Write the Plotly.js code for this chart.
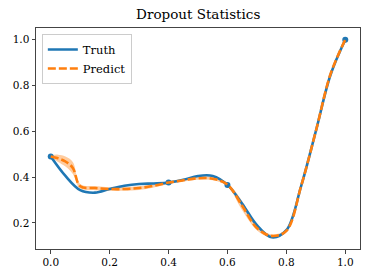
<!DOCTYPE html>
<html>
<head>
<meta charset="utf-8">
<script src="https://cdn.plot.ly/plotly-3.0.1.min.js"></script>
<style>html,body{margin:0;padding:0;background:#fff;}#chart{width:374px;height:280px;}</style>
</head>
<body>
<div id="chart"></div>
<script>
// Truth curve
var truthX = [0.00,0.05,0.10,0.15,0.20,0.25,0.30,0.35,0.40,0.45,0.50,0.55,0.60,0.65,0.70,0.75,0.80,0.85,0.90,0.95,1.00];
var truthY = [0.490,0.405,0.343,0.332,0.348,0.362,0.370,0.372,0.376,0.388,0.405,0.405,0.366,0.284,0.190,0.137,0.168,0.360,0.600,0.847,1.000];
// Observed truth points
var obsX = [0.0,0.4,0.6,1.0];
var obsY = [0.490,0.376,0.366,1.000];
// Prediction mean and band
var predX = [0.000,0.025,0.050,0.075,0.100,0.150,0.200,0.250,0.300,0.350,0.400,0.450,0.500,0.550,0.600,0.650,0.700,0.750,0.800,0.850,0.900,0.950,1.000];
var predY = [0.490,0.482,0.468,0.440,0.360,0.352,0.348,0.348,0.352,0.362,0.376,0.386,0.395,0.393,0.367,0.275,0.178,0.143,0.165,0.360,0.600,0.850,1.000];
var predLo = [0.485,0.466,0.446,0.414,0.350,0.343,0.340,0.340,0.344,0.355,0.370,0.380,0.388,0.386,0.360,0.255,0.168,0.136,0.158,0.352,0.592,0.843,0.995];
var predHi = [0.495,0.498,0.490,0.466,0.370,0.361,0.356,0.356,0.360,0.369,0.382,0.392,0.402,0.400,0.374,0.295,0.188,0.150,0.172,0.368,0.608,0.857,1.005];

var serif = "DejaVu Serif, serif";
var traces = [
  {x: predX, y: predLo, mode: 'lines', line: {width: 0, shape: 'spline'}, showlegend: false, hoverinfo: 'skip'},
  {x: predX, y: predHi, mode: 'lines', line: {width: 0, shape: 'spline'}, fill: 'tonexty', fillcolor: 'rgba(255,127,14,0.4)', showlegend: false, hoverinfo: 'skip'},
  {x: truthX, y: truthY, mode: 'lines', name: 'Truth', line: {color: '#1f77b4', width: 2.6, shape: 'spline'}},
  {x: obsX, y: obsY, mode: 'markers', marker: {color: '#1f77b4', size: 6}, showlegend: false},
  {x: predX, y: predY, mode: 'lines', name: 'Predict', line: {color: '#ff7f0e', width: 2.6, dash: '8px,3px', shape: 'spline'}}
];
var axisCommon = {
  showgrid: false, zeroline: false, showline: true, mirror: true,
  linecolor: '#444', linewidth: 1, ticks: 'outside', ticklen: 3.5, tickwidth: 1, tickcolor: '#444',
  tickfont: {family: serif, size: 10.5, color: '#000'}
};
var layout = {
  width: 374, height: 280,
  margin: {l: 36, r: 14, t: 28, b: 31},
  paper_bgcolor: '#fff', plot_bgcolor: '#fff',
  title: {text: 'Dropout Statistics', font: {family: serif, size: 13.5, color: '#000'}, x: 0.53, xanchor: 'center', y: 0.965, yanchor: 'top'},
  xaxis: Object.assign({range: [-0.05, 1.05], tickvals: [0,0.2,0.4,0.6,0.8,1.0], ticktext: ['0.0','0.2','0.4','0.6','0.8','1.0']}, axisCommon),
  yaxis: Object.assign({range: [0.086, 1.051], tickvals: [0.2,0.4,0.6,0.8,1.0], ticktext: ['0.2','0.4','0.6','0.8','1.0']}, axisCommon),
  legend: {x: 0.018, y: 0.973, xanchor: 'left', yanchor: 'top', bgcolor: 'rgba(255,255,255,0.8)', bordercolor: '#ccc', borderwidth: 1,
           font: {family: serif, size: 11.5, color: '#000'}, itemwidth: 30, traceorder: 'normal'},
  showlegend: true
};
Plotly.newPlot('chart', traces, layout, {staticPlot: true, displayModeBar: false});
</script>
</body>
</html>
